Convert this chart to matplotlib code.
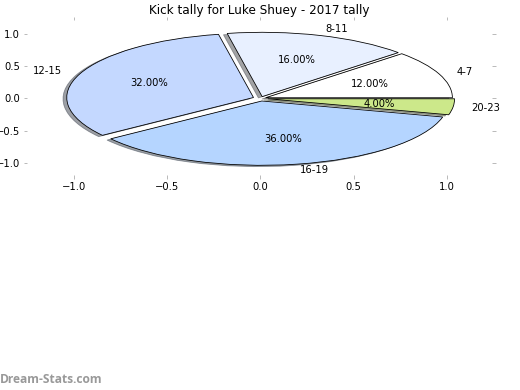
import matplotlib
matplotlib.use('Agg')
import matplotlib.pyplot as plt

labels = ['4-7', '8-11', '12-15', '16-19', '20-23']
values = [12, 16, 32, 36, 4]
colors = ['#ffffff', '#e8f0ff', '#c4d8ff', '#b5d5ff', '#cce88a']
explode = [0.03, 0.03, 0.04, 0.04, 0.04]

fig = plt.figure(figsize=(520 / 72, 390 / 72), dpi=72)
ax = fig.add_axes([27 / 520, 1 - 175 / 390, 465 / 520, 155 / 390])

ax.pie(values, labels=labels, colors=colors, explode=explode, autopct='%.2f%%',
       shadow=True, frame=True, wedgeprops={'edgecolor': 'black', 'linewidth': 0.8})
ax.set_aspect('auto')
ax.set_xlim(-1.25, 1.24)
ax.set_ylim(-1.19, 1.22)
ax.set_xticks([-1.0, -0.5, 0.0, 0.5, 1.0])
ax.set_yticks([-1.0, -0.5, 0.0, 0.5, 1.0])
for s in ax.spines.values():
    s.set_visible(False)
ax.tick_params(top=True, right=True, color='#aaaaaa')
ax.set_title('Kick tally for Luke Shuey - 2017 tally')

# watermark
fig.text(0.0, 0.026, 'Dream-Stats.com', color='#999999', fontsize=12,
         family='Open Sans', fontweight='bold', va='center', ha='left')

fig.savefig('out.png', dpi=72)
